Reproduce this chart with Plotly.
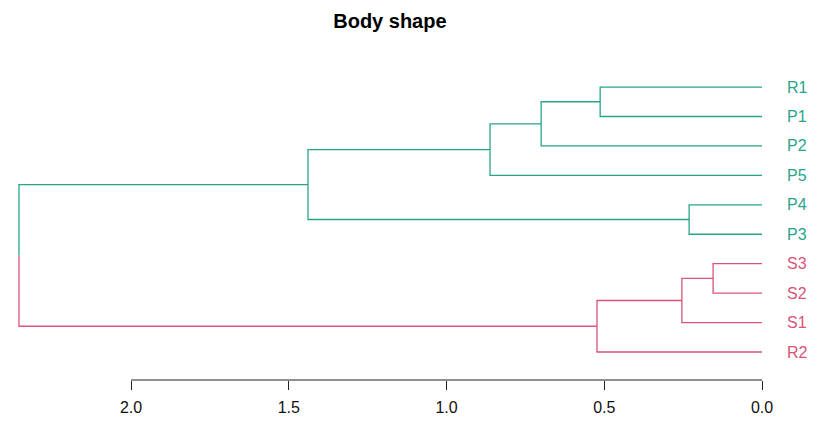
import plotly.graph_objects as go

# ---- data ----
leaf_labels = ["R1", "P1", "P2", "P5", "P4", "P3", "S3", "S2", "S1", "R2"]  # top to bottom
leaf_groups = [0, 0, 0, 0, 0, 0, 1, 1, 1, 1]
# merges: negative = leaf (1-based index into leaf_labels), positive = earlier merge (1-based)
merge_left = [-7, -5, 1, -1, 3, 4, 6, 7, 8]
merge_right = [-8, -6, -9, -2, -10, -3, -4, 2, 5]
merge_height = [0.155, 0.231, 0.254, 0.513, 0.523, 0.70, 0.862, 1.439, 2.355]
tick_vals = [0.0, 0.5, 1.0, 1.5, 2.0]
tick_text = ["0.0", "0.5", "1.0", "1.5", "2.0"]
group_colors = ["#27A58A", "#D9537A"]
title_text = "Body shape"

n = len(leaf_labels)
leaf_y = [n - i for i in range(n)]

node_y, node_h, node_grp = {}, {}, {}
segs = {0: ([], []), 1: ([], [])}


def child_info(c):
    if c < 0:
        i = -c - 1
        return leaf_y[i], 0.0, leaf_groups[i]
    return node_y[c], node_h[c], node_grp[c]


def add(g, xs, ys):
    segs[g][0].extend(xs + [None])
    segs[g][1].extend(ys + [None])


for k in range(len(merge_height)):
    idx = k + 1
    h = merge_height[k]
    ya, ha, ga = child_info(merge_left[k])
    yb, hb, gb = child_info(merge_right[k])
    y = (ya + yb) / 2
    node_y[idx], node_h[idx] = y, h
    node_grp[idx] = ga if ga == gb else None
    if ga == gb:
        add(ga, [ha, h, h, hb], [ya, ya, yb, yb])
    else:
        add(ga, [ha, h, h], [ya, ya, y])
        add(gb, [h, h, hb], [y, yb, yb])

fig = go.Figure()
for g in (0, 1):
    fig.add_trace(go.Scatter(x=segs[g][0], y=segs[g][1], mode="lines",
                             line=dict(color=group_colors[g], width=1.3),
                             hoverinfo="skip", showlegend=False))

for lab, y, g in zip(leaf_labels, leaf_y, leaf_groups):
    fig.add_annotation(x=-0.0735, y=y, text=lab, xanchor="left", yanchor="middle",
                       showarrow=False,
                       font=dict(family="Arial, Liberation Sans", size=16, color=group_colors[g]))

# baseline of the axis (only across the tick span)
fig.add_shape(type="line", xref="x", yref="paper", x0=min(tick_vals), x1=max(tick_vals),
              y0=0, y1=0, line=dict(color="#222222", width=1.2))

fig.update_layout(
    width=814, height=422,
    margin=dict(l=0, r=0, t=50, b=42),
    paper_bgcolor="white", plot_bgcolor="white",
    title=dict(text="<b>" + title_text + "</b>", x=0.479, xanchor="center",
               y=1 - 21 / 422, yanchor="middle",
               font=dict(family="Arial, Liberation Sans", size=20, color="black")),
    xaxis=dict(range=[2.4152, -0.1648], tickvals=tick_vals, ticktext=tick_text,
               ticks="outside", ticklen=9, tickwidth=1.2, tickcolor="#222222",
               ticklabelstandoff=4,
               showline=False, showgrid=False, zeroline=False,
               tickfont=dict(family="Arial, Liberation Sans", size=16, color="#111111")),
    yaxis=dict(range=[0.049, 11.258], visible=False, showgrid=False, zeroline=False),
)

fig.write_html("out.html")
